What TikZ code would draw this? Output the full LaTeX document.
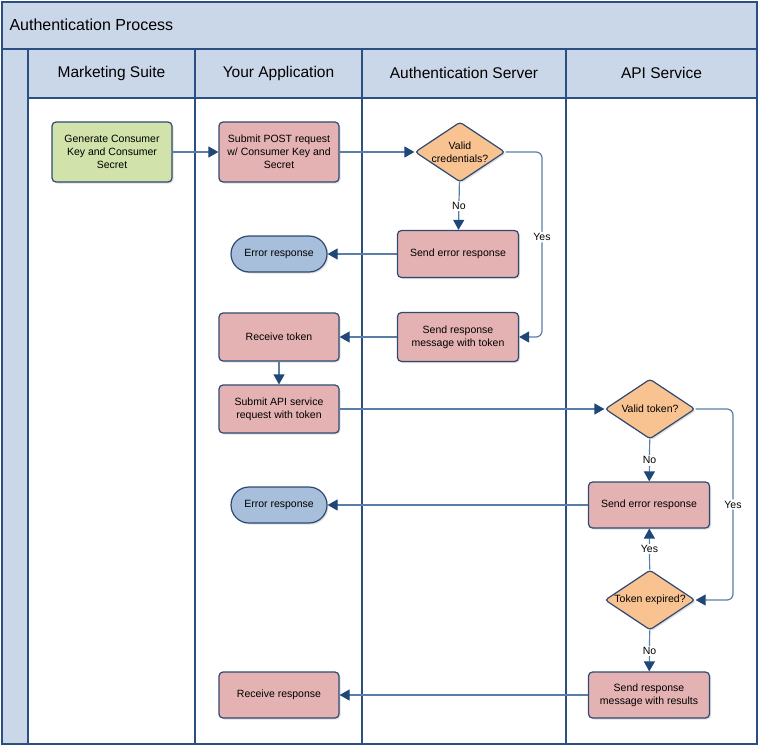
\documentclass[tikz,border=0pt]{standalone}
\usepackage{fontspec}
\setmainfont{Liberation Sans}
\usetikzlibrary{
    shapes.geometric,
    arrows.meta,
    shadows
}
\definecolor{lanefill}{HTML}{CAD7E8}
\definecolor{laneline}{HTML}{2B4F80}
\definecolor{nodeline}{HTML}{2E4A72}
\definecolor{flowline}{HTML}{5B7EA8}
\definecolor{tipblue}{HTML}{1F4777}
\definecolor{taskred}{HTML}{E4B2B2}
\definecolor{taskgreen}{HTML}{D1E2AA}
\definecolor{testorange}{HTML}{F9C391}
\definecolor{endblue}{HTML}{A8BFDB}
\tikzset{
  lane/.style={
    draw=laneline,
    line width=1.5pt
  },
  task/.style={
    draw=nodeline,
    line width=1.2pt,
    fill=taskred,
    rounded corners=4pt,
    minimum width=120pt,
    minimum height=47pt,
    align=center,
    inner sep=2pt,
    font=\fontsize{10.5}{13}\selectfont,
    drop shadow={shadow xshift=1.5pt,shadow yshift=-1.5pt,fill=black!25}
  },
  endpill/.style={
    task,
    fill=endblue,
    rounded corners=18pt,
    minimum width=96pt,
    minimum height=36pt
  },
  test/.style={
    task,
    diamond,
    fill=testorange,
    rounded corners=3pt,
    aspect=1.5,
    inner sep=-3pt,
    minimum width=90pt,
    minimum height=60pt
  },
  flow/.style={
    draw=flowline,
    line width=1.2pt,
    -{Triangle[length=10pt,width=11pt,color=tipblue]}
  },
  answer/.style={
    fill=white,
    inner sep=1.5pt,
    font=\fontsize{10.5}{13}\selectfont
  },
  lanetitle/.style={
    font=\fontsize{15.5}{18}\selectfont
  }
}

\begin{document}
\begin{tikzpicture}[x=1pt,y=-1pt]
    \useasboundingbox (0,0) rectangle (759,746);
    %-------------------------
    %pool and lanes
    %-------------------------
    \fill[lanefill] (2,2) rectangle (757,98);
    \fill[lanefill] (2,49) rectangle (28,744);
    \draw[lane] (2,49) -- (757,49);
    \draw[lane] (28,98) -- (757,98);
    \draw[lane] (28,49) -- (28,744);
    \draw[lane] (195,49) -- (195,744);
    \draw[lane] (362,49) -- (362,744);
    \draw[lane] (566,49) -- (566,744);
    \draw[lane,line width=2pt] (2,2) rectangle (757,744);

    \node[anchor=west,font=\fontsize{16}{19}\selectfont] (pool) at (6,25) {Authentication Process};
    \node[lanetitle] (lmkt) at (111.5,73) {Marketing Suite};
    \node[lanetitle] (lapp) at (278.5,73) {Your Application};
    \node[lanetitle] (lauth) at (464,73) {Authentication Server};
    \node[lanetitle] (lapi) at (661.5,73) {API Service};

    %-------------------------
    %steps
    %-------------------------
    \node[task,fill=taskgreen,minimum height=60pt] (gen) at (112,152) {Generate Consumer\\Key and Consumer\\Secret};
    \node[task,minimum height=60pt] (post) at (279,152) {Submit POST request\\w/ Consumer Key and\\Secret};
    \node[test] (vcred) at (460,152) {Valid\\credentials?};
    \node[task,minimum width=121pt] (autherr) at (458,254) {Send error response};
    \node[endpill] (apperr) at (279,254) {Error response};
    \node[task,minimum width=121pt,minimum height=49pt] (sendtok) at (458,337) {Send response\\message with token};
    \node[task,minimum height=48pt] (gettok) at (279,337) {Receive token};
    \node[task,minimum height=48pt] (apireq) at (279,409) {Submit API service\\request with token};

    \node[test] (vtok) at (650,409) {Valid token?};
    \node[task,minimum width=121pt,minimum height=46pt] (apierr) at (649,505) {Send error response};
    \node[endpill] (apperr2) at (279,505) {Error response};
    \node[test] (expired) at (650,600) {Token expired?};
    \node[task,minimum width=121pt,minimum height=46pt] (sendres) at (649,695) {Send response\\message with results};
    \node[task,minimum height=46pt] (getres) at (279,695) {Receive response};

    \coordinate (yes1) at (542,152);
    \coordinate (yes2) at (733,409);

    %-------------------------
    %flows
    %-------------------------
    \draw[flow] (gen) -- (post);
    \draw[flow] (post) -- (vcred);
    \draw[flow] (vcred) -- node[answer] {No} (autherr);
    \draw[flow,rounded corners=6pt] (vcred.east) -- (yes1) |- node[answer,pos=0.23] {Yes} (sendtok.east);
    \draw[flow] (autherr) -- (apperr);
    \draw[flow] (sendtok) -- (gettok);
    \draw[flow] (gettok) -- (apireq);
    \draw[flow] (apireq) -- (vtok);

    \draw[flow] (vtok) -- node[answer] {No} (apierr);
    \draw[flow,rounded corners=6pt] (vtok.east) -- (yes2) |- node[answer,pos=0.25] {Yes} (expired.east);
    \draw[flow] (expired) -- node[answer] {Yes} (apierr);
    \draw[flow] (expired) -- node[answer] {No} (sendres);
    \draw[flow] (apierr) -- (apperr2);
    \draw[flow] (sendres) -- (getres);

    \end{tikzpicture}
\end{document}
